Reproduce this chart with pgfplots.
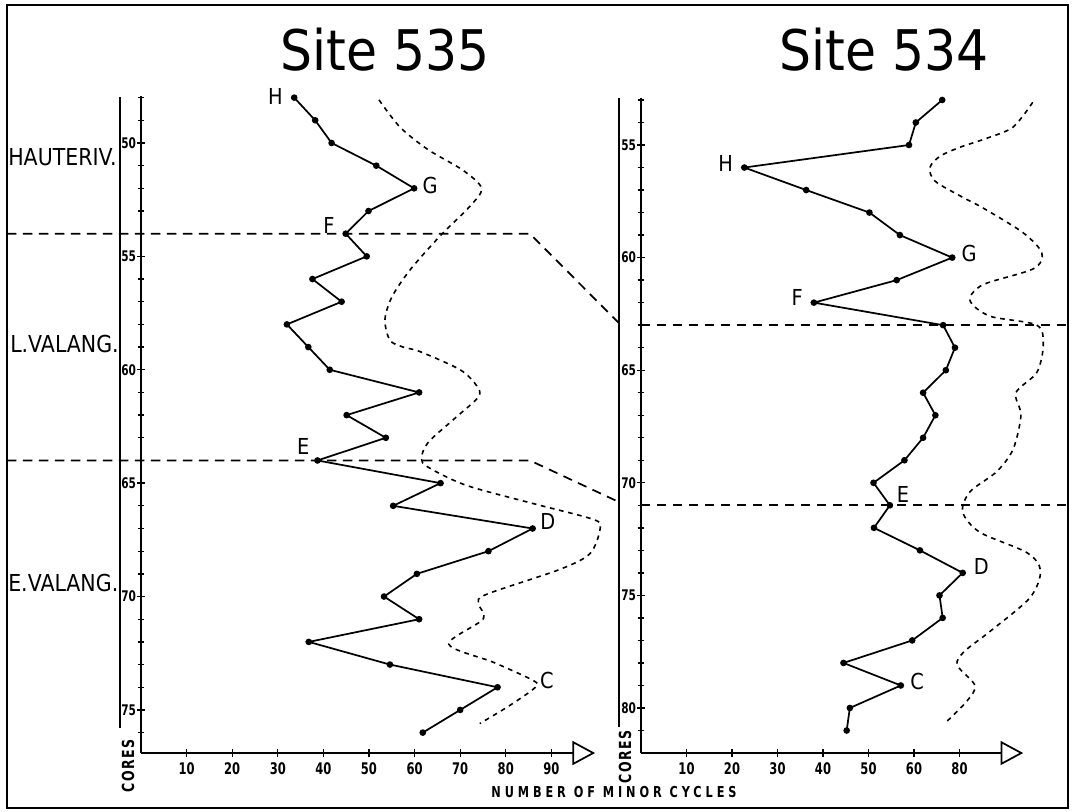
\documentclass[border=0pt]{standalone}
\usepackage{fontspec}
\setmainfont{DejaVu Sans}
\newfontfamily\ttlfont{DejaVu Sans}[FakeStretch=0.9]
\newfontfamily\labfont{DejaVu Sans}[FakeStretch=0.88]
\newfontfamily\tickfont{DejaVu Sans}[FakeStretch=0.72]
\newfontfamily\axfont{DejaVu Sans}[FakeStretch=0.75,LetterSpace=26]
\newfontfamily\coresfont{DejaVu Sans}[FakeStretch=0.75,LetterSpace=8]
\usepackage{pgfplots}
\pgfplotsset{compat=1.18}
\usetikzlibrary{arrows.meta}

\pgfplotsset{
  panel/.style={
    scale only axis, axis lines=left, y dir=reverse, clip=false,
    x axis line style={-{Triangle[open,length=17pt,width=18pt,line width=1.3pt]}, line width=1.4pt},
    y axis line style={-, line width=1.4pt},
    tick align=center,
    major tick length=6pt, minor tick length=5pt,
    every tick/.style={black, line width=1pt},
    every minor tick/.style={black, line width=1pt},
    /pgf/number format/assume math mode=true,
    xticklabel style={font=\tickfont\bfseries\fontsize{12}{13}\selectfont, yshift=-1pt},
    yticklabel style={font=\tickfont\bfseries\fontsize{11}{12}\selectfont, inner sep=0.5pt},
  },
  core/.style={black, line width=1.3pt, mark=*, mark size=1.8pt},
  env/.style={black, smooth, line width=1.2pt, dash pattern=on 3.5pt off 3.5pt},
}
\tikzset{
  lab/.style={font=\labfont\fontsize{16.5}{17}\selectfont, inner sep=0pt},
  corr/.style={black, line width=1.3pt, dash pattern=on 7pt off 5pt},
}

\begin{document}
\begin{tikzpicture}
\useasboundingbox (0,0) rectangle (804.75pt,-608.25pt);
\draw[line width=1.5pt] (5.25pt,-3.75pt) rectangle (801pt,-606pt);

% ---------------- Site 535 ----------------
\begin{axis}[panel, at={(105.75pt,-564.75pt)}, anchor=south west,
  width=340.6pt, height=492.4pt,
  xmin=0, xmax=99.6, ymin=47.95, ymax=76.9,
  xtick={10,20,...,90}, ytick={50,55,...,75}, minor ytick={48,...,76}]
\addplot[core] coordinates {
 (33.6,48) (38.2,49) (41.8,50) (51.6,51) (59.9,52) (49.9,53) (44.9,54)
 (49.5,55) (37.6,56) (44.0,57) (32.0,58) (36.7,59) (41.4,60) (61.0,61)
 (45.1,62) (53.7,63) (38.7,64) (65.7,65) (55.3,66) (85.9,67) (76.2,68)
 (60.5,69) (53.3,70) (61.0,71) (36.8,72) (54.6,73) (78.2,74) (70.0,75) (61.8,76)};
\addplot[env] coordinates {
 (52.2,48.1) (56.8,49.3) (63,50.3) (70.6,51.2) (74.7,52.0) (72.1,52.8)
 (65.6,54.1) (59,55.6) (55,56.8) (53.5,57.8) (54.6,58.7) (57.5,59.0) (61.2,59.2)
 (70,60.0) (73.6,60.7) (74.0,61.2) (68.5,62.2) (63,63.2) (61.5,63.9) (63,64.3)
 (71.4,65.1) (86,65.9) (99.2,66.6) (100.7,67.0) (98.5,68.1) (91.9,68.8)
 (75.8,69.9) (74,70.3) (75,71.0) (67.5,72.1) (77.3,72.9) (86,73.7) (86.5,74.0)
 (80.9,74.8) (74.3,75.6)};
\draw[corr] (axis cs:-29.4,54) -- (axis cs:85.3,54) -- (axis cs:104.8,57.94);
\draw[corr] (axis cs:-29.4,64) -- (axis cs:85.3,64) -- (axis cs:104.8,65.83);
\node[lab] at (axis cs:29.5,47.93) {H};
\node[lab] at (axis cs:63.4,51.87) {G};
\node[lab] at (axis cs:41.2,53.64) {F};
\node[lab] at (axis cs:35.6,63.4) {E};
\node[lab] at (axis cs:89.25,66.69) {D};
\node[lab] at (axis cs:89.0,73.68) {C};
\end{axis}

% ---------------- Site 534 ----------------
\begin{axis}[panel, at={(480.75pt,-564.75pt)}, anchor=south west,
  width=286.65pt, height=491.3pt,
  xmin=0, xmax=84, ymin=52.91, ymax=82.0,
  xtick={10,20,...,70}, xticklabels={10,20,30,40,50,60,80},
  ytick={55,60,...,80}, minor ytick={53,...,81}]
\addplot[core] coordinates {
 (66.2,53) (60.4,54) (58.9,55) (22.7,56) (36.3,57) (50.2,58) (56.9,59)
 (68.4,60) (56.2,61) (38.0,62) (66.4,63) (69.0,64) (67.0,65) (62.0,66)
 (64.7,67) (62.0,68) (57.9,69) (51.1,70) (54.7,71) (51.2,72) (61.3,73)
 (70.7,74) (65.6,75) (66.3,76) (59.6,77) (44.5,78) (57.1,79) (45.9,80) (45.2,81)};
\addplot[env] coordinates {
 (86.1,53.1) (81.8,54.2) (76,54.7) (70.1,55.1) (65.7,55.5) (63.5,56.0)
 (64.6,56.6) (70.5,57.3) (75.2,57.8) (84.0,58.9) (88.1,59.8) (86.2,60.5)
 (75.2,61.2) (72.3,61.9) (76.7,62.6) (87,63.0) (88.4,63.9) (87,65.1)
 (82.4,66.0) (83.5,67.0) (81.8,68.5) (78.2,69.5) (72.3,70.4) (70.7,71.3)
 (74.5,72.2) (84.8,73.1) (87.8,73.9) (85.5,75.1) (76.7,76.6) (71,77.5)
 (69.5,78.1) (73.4,79.0) (71.6,79.7) (67.2,80.6)};
\draw[corr] (axis cs:0,63) -- (axis cs:93.8,63);
\draw[corr] (axis cs:0,71) -- (axis cs:93.8,71);
\node[lab] at (axis cs:18.6,55.8) {H};
\node[lab] at (axis cs:72.1,59.8) {G};
\node[lab] at (axis cs:34.3,61.77) {F};
\node[lab] at (axis cs:57.6,70.54) {E};
\node[lab] at (axis cs:74.8,73.72) {D};
\node[lab] at (axis cs:60.7,78.82) {C};
\end{axis}

% stage columns
\draw[line width=1.5pt] (90pt,-72.75pt) -- (90pt,-546pt);
\draw[line width=1.5pt] (464.25pt,-73.5pt) -- (464.25pt,-545.25pt);

% titles and labels
\node[font=\ttlfont\fontsize{42}{42}\selectfont] at (288.75pt,-37.5pt) {Site 535};
\node[font=\ttlfont\fontsize{42}{42}\selectfont] at (663pt,-37.5pt) {Site 534};
\node[anchor=west, inner sep=0pt, font=\labfont\fontsize{17.5}{18}\selectfont] at (6pt,-117.75pt) {HAUTERIV.};
\node[anchor=west, inner sep=0pt, font=\labfont\fontsize{17.5}{18}\selectfont] at (7.5pt,-258pt) {L.VALANG.};
\node[anchor=west, inner sep=0pt, font=\labfont\fontsize{17.5}{18}\selectfont] at (6pt,-437.25pt) {E.VALANG.};
\node[rotate=90, inner sep=0pt, font=\coresfont\bfseries\fontsize{12.5}{13}\selectfont] at (96pt,-574.5pt) {CORES};
\node[rotate=90, inner sep=0pt, font=\coresfont\bfseries\fontsize{12.5}{13}\selectfont] at (468.75pt,-567.75pt) {CORES};
\node[inner sep=0pt, font=\axfont\bfseries\fontsize{11.3}{12}\selectfont] at (460.5pt,-594pt) {NUMBER OF MINOR CYCLES};
\end{tikzpicture}
\end{document}
